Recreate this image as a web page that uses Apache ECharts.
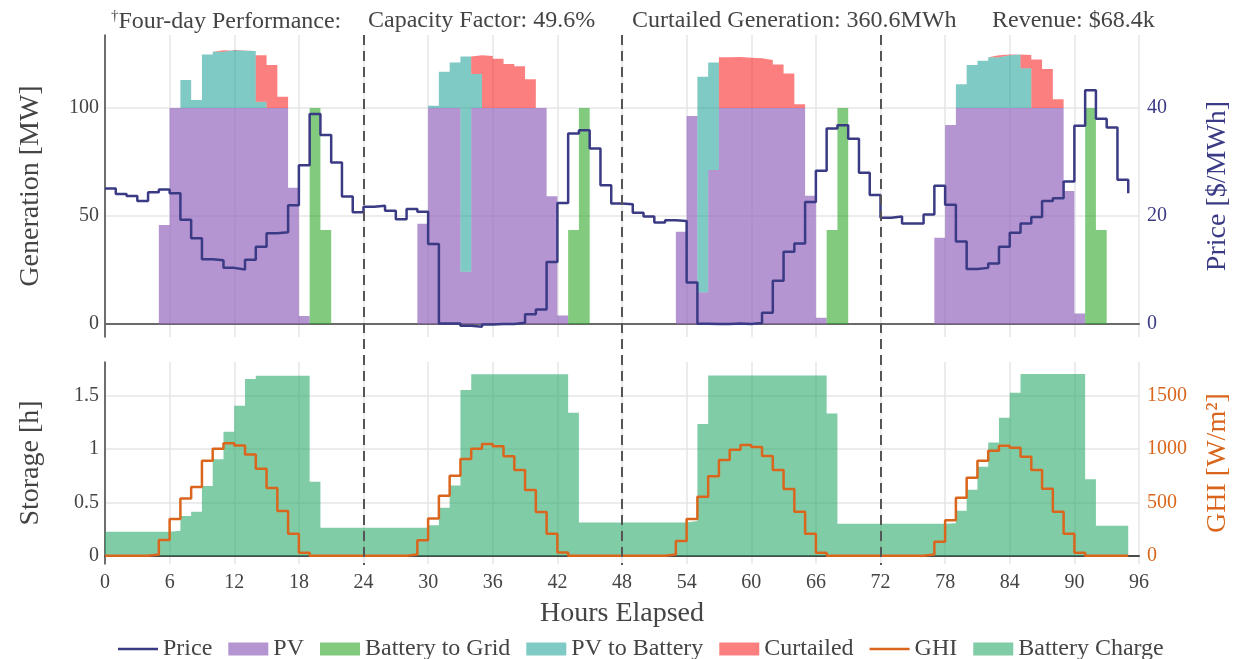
<!DOCTYPE html>
<html>
<head>
<meta charset="utf-8">
<script src="https://cdn.jsdelivr.net/npm/echarts@6/dist/echarts.min.js"></script>
<style>
  html, body { margin: 0; padding: 0; background: #fff; }
  #chart { width: 1244px; height: 659px; }
</style>
</head>
<body>
<div id="chart"></div>
<script>
// Hourly dispatch over four days (hour index 0..95)
const hourTicks = [0, 6, 12, 18, 24, 30, 36, 42, 48, 54, 60, 66, 72, 78, 84, 90, 96];
const dayDividers = [24, 48, 72];

// Electricity price [$/MWh], value held over each hour
const price = [
  25.1, 24.1, 23.7, 22.8, 24.4, 24.9, 24.2, 19.3, 15.9, 12.0, 11.8, 10.4,
  10.1, 11.9, 14.3, 16.8, 17.0, 22.0, 29.4, 38.9, 35.0, 29.9, 23.6, 20.7,
  21.7, 21.9, 21.0, 19.4, 21.3, 20.8, 14.8, 0.1, 0.1, -0.3, -0.5, -0.1,
  0.0, 0.0, 0.25, 1.8, 2.7, 11.5, 22.4, 35.3, 35.9, 32.5, 25.7, 22.3,
  22.2, 20.6, 19.9, 18.8, 19.2, 19.1, 7.7, 0.05, 0.0, 0.0, 0.1, 0.0,
  0.2, 2.1, 8.0, 13.4, 14.9, 22.6, 28.4, 36.2, 36.8, 34.3, 28.0, 23.9,
  19.7, 19.9, 18.6, 18.6, 20.3, 25.6, 22.1, 15.3, 10.2, 10.4, 11.2, 14.3,
  16.9, 18.6, 19.8, 22.8, 23.3, 26.4, 36.7, 43.3, 38.0, 36.4, 26.7, 24.2
];

// PV delivered to grid [MW]
const pvGrid = [
  0, 0, 0, 0, 0, 45.8, 100, 100, 100, 100, 100, 100,
  100, 100, 100, 100, 100, 63.1, 3.7, 0, 0, 0, 0, 0,
  0, 0, 0, 0, 0, 46.4, 100, 100, 100, 24.2, 100, 100,
  100, 100, 100, 100, 100, 59.1, 3.9, 0, 0, 0, 0, 0,
  0, 0, 0, 0, 0, 42.7, 96.3, 14.7, 71.3, 100, 100, 100,
  100, 100, 100, 100, 100, 59.4, 2.9, 0, 0, 0, 0, 0,
  0, 0, 0, 0, 0, 40.0, 92.1, 100, 100, 100, 100, 100,
  100, 100, 100, 100, 100, 61.6, 4.9, 0, 0, 0, 0, 0
];

// Battery discharge to grid [MW]
const batteryToGrid = [
  0, 0, 0, 0, 0, 0, 0, 0, 0, 0, 0, 0,
  0, 0, 0, 0, 0, 0, 0, 100, 43.5, 0, 0, 0,
  0, 0, 0, 0, 0, 0, 0, 0, 0, 0, 0, 0,
  0, 0, 0, 0, 0, 0, 0, 43.5, 100, 0, 0, 0,
  0, 0, 0, 0, 0, 0, 0, 0, 0, 0, 0, 0,
  0, 0, 0, 0, 0, 0, 0, 43.5, 100, 0, 0, 0,
  0, 0, 0, 0, 0, 0, 0, 0, 0, 0, 0, 0,
  0, 0, 0, 0, 0, 0, 0, 100, 43.5, 0, 0, 0
];

// PV used to charge the battery [MW]
const pvToBattery = [
  0, 0, 0, 0, 0, 0, 0, 13.0, 3.7, 24.8, 26.1, 26.7,
  26.5, 26.4, 2.9, 0, 0, 0, 0, 0, 0, 0, 0, 0,
  0, 0, 0, 0, 0, 0, 1.1, 16.8, 21.1, 99.6, 15.7, 0,
  0, 0, 0, 0, 0, 0, 0, 0, 0, 0, 0, 0,
  0, 0, 0, 0, 0, 0, 0, 99.8, 49.8, 0, 0, 0,
  0, 0, 0, 0, 0, 0, 0, 0, 0, 0, 0, 0,
  0, 0, 0, 0, 0, 0, 0, 11.0, 19.9, 21.9, 23.5, 24.4,
  24.8, 18.4, 0, 0, 0, 0, 0, 0, 0, 0, 0, 0
];

// Curtailed PV [MW]
const curtailed = [
  0, 0, 0, 0, 0, 0, 0, 0, 0, 0, 0, 0,
  0, 0, 21.5, 19.9, 5.2, 0, 0, 0, 0, 0, 0, 0,
  0, 0, 0, 0, 0, 0, 0, 0, 0, 0, 8.7, 24.1,
  22.8, 20.4, 19.3, 13.3, 0, 0, 0, 0, 0, 0, 0, 0,
  0, 0, 0, 0, 0, 0, 0, 0, 0, 23.5, 23.6, 23.3,
  23.0, 22.2, 20.2, 16.0, 1.7, 0, 0, 0, 0, 0, 0, 0,
  0, 0, 0, 0, 0, 0, 0, 0, 0, 0, 0, 0,
  0, 6.1, 22.5, 18.1, 4.0, 0, 0, 0, 0, 0, 0, 0
];

// Global horizontal irradiance [W/m²]
const ghi = [
  0, 0, 0, 0, 12, 147, 344, 538, 645, 892, 1005, 1055,
  1036, 951, 817, 635, 419, 207, 28, 0, 0, 0, 0, 0,
  0, 0, 0, 0, 12, 144, 350, 563, 751, 908, 1005, 1049,
  1027, 933, 804, 617, 410, 207, 31, 0, 0, 0, 0, 0,
  0, 0, 0, 0, 12, 138, 344, 554, 745, 898, 995, 1039,
  1020, 936, 804, 626, 413, 207, 28, 0, 0, 0, 0, 0,
  0, 0, 0, 0, 12, 131, 332, 545, 732, 892, 986, 1033,
  1014, 930, 804, 629, 413, 207, 28, 0, 0, 0, 0, 0
];

// Battery state of charge [h of rated power], hours 0..94
const batteryCharge = [
  0.225, 0.225, 0.225, 0.225, 0.225, 0.225, 0.235, 0.372, 0.413, 0.654, 0.905, 1.164,
  1.408, 1.659, 1.690, 1.690, 1.690, 1.690, 1.690, 0.695, 0.263, 0.263, 0.263, 0.263,
  0.263, 0.263, 0.263, 0.263, 0.263, 0.263, 0.285, 0.451, 0.660, 1.556, 1.703, 1.703,
  1.703, 1.703, 1.703, 1.703, 1.703, 1.703, 1.703, 1.343, 0.311, 0.311, 0.311, 0.311,
  0.311, 0.311, 0.311, 0.311, 0.311, 0.311, 0.326, 1.237, 1.693, 1.693, 1.693, 1.693,
  1.693, 1.693, 1.693, 1.693, 1.693, 1.693, 1.693, 1.336, 0.299, 0.299, 0.299, 0.299,
  0.299, 0.299, 0.299, 0.299, 0.299, 0.299, 0.304, 0.423, 0.620, 0.836, 1.064, 1.296,
  1.531, 1.706, 1.706, 1.706, 1.706, 1.706, 1.706, 0.717, 0.282, 0.282, 0.282
];

// Summary line printed above the plots
const summary = [
  '{dag|†}Four-day Performance:',
  'Capacity Factor: 49.6%',
  'Curtailed Generation: 360.6MWh',
  'Revenue: $68.4k'
];

const FONT = 'Liberation Serif';
const TXT = '#444';
const NAVY = '#3a3a85';
const ORANGE = '#d9661c';
const GRIDC = '#e6e6e6';

const C_PV = 'rgba(148,103,189,0.7)';
const C_B2G = 'rgba(46,168,40,0.6)';
const C_PV2B = 'rgba(0,150,138,0.5)';
const C_CURT = 'rgba(248,0,0,0.5)';
const C_CHG = 'rgba(44,170,108,0.6)';

// hour boundaries 0..96 for the hidden band axes
const hourEdges = Array.from({ length: 97 }, (_, i) => String(i));
// hourly blocks: value h is held over [h, h+1]; the last block is closed at its right edge
const blockPts = arr => arr.concat([arr[arr.length - 1]]);
// step-line points starting at each hour
const stepPts = arr => arr.map((v, h) => [h, v]);

// horizontal line used as legend swatch for the two line series
const LINE_ICON = 'path://M0,0L40,0M0,5.2L40,5.2L40,7.8L0,7.8ZM0,13L40,13';

const chart = echarts.init(document.getElementById('chart'), null, { renderer: 'canvas' });

const plotTop = 35, plotBottom = 564;
const titleLefts = [111, 368, 632, 992];

function blockSeries(name, values, color, xIdx, yIdx, stack) {
  return {
    name, type: 'line', xAxisIndex: xIdx, yAxisIndex: yIdx, stack,
    step: 'end', symbol: 'none', smooth: false,
    color,
    lineStyle: { width: 0, opacity: 0 },
    areaStyle: { color, opacity: 1 },
    itemStyle: { color },
    data: blockPts(values)
  };
}

const option = {
  animation: false,
  backgroundColor: '#fff',
  textStyle: { fontFamily: FONT, color: TXT },
  title: summary.map((t, i) => ({
    text: t,
    left: titleLefts[i],
    top: 9,
    padding: 0,
    textStyle: {
      fontFamily: FONT, fontSize: 24, fontWeight: 'normal', color: TXT,
      rich: { dag: { fontFamily: FONT, fontSize: 15, color: TXT, padding: [0, 0, 10, 0] } }
    }
  })),
  grid: [
    { left: 105, right: 105, top: plotTop, height: 302, containLabel: false, outerBoundsMode: 'none' },
    { left: 105, right: 105, top: 362, height: plotBottom - 362, containLabel: false, outerBoundsMode: 'none' }
  ],
  legend: {
    left: 113,
    top: 632,
    itemWidth: 40,
    itemHeight: 13,
    itemGap: 16,
    textStyle: { fontFamily: FONT, fontSize: 24, color: TXT },
    data: [
      { name: 'Price', icon: LINE_ICON, itemStyle: { color: NAVY, borderWidth: 0 } },
      { name: 'PV', icon: 'rect', itemStyle: { borderWidth: 0 } },
      { name: 'Battery to Grid', icon: 'rect', itemStyle: { borderWidth: 0 } },
      { name: 'PV to Battery', icon: 'rect', itemStyle: { borderWidth: 0 } },
      { name: 'Curtailed', icon: 'rect', itemStyle: { borderWidth: 0 } },
      { name: 'GHI', icon: LINE_ICON, itemStyle: { color: ORANGE, borderWidth: 0 } },
      { name: 'Battery Charge', icon: 'rect', itemStyle: { borderWidth: 0 } }
    ]
  },
  xAxis: [
    {
      type: 'value', gridIndex: 0, min: 0, max: 96, interval: 6,
      axisLabel: { show: false },
      axisTick: { show: false },
      axisLine: { show: true, onZero: true, lineStyle: { color: '#6a6a6a', width: 2 } },
      splitLine: { show: true, lineStyle: { color: GRIDC, width: 1.5 } }
    },
    {
      type: 'value', gridIndex: 1, min: 0, max: 96, interval: 6,
      axisLabel: {
        fontFamily: FONT, fontSize: 20, color: TXT, margin: 9,
        formatter: v => hourTicks.includes(v) ? String(v) : ''
      },
      axisTick: { show: false },
      axisLine: { show: true, onZero: true, lineStyle: { color: '#4a4a4a', width: 2 } },
      splitLine: { show: true, lineStyle: { color: GRIDC, width: 1.5 } },
      name: 'Hours Elapsed', nameLocation: 'middle', nameGap: 36,
      nameTextStyle: { fontFamily: FONT, fontSize: 28, color: TXT }
    },
    { type: 'category', gridIndex: 0, boundaryGap: false, data: hourEdges, show: false },
    { type: 'category', gridIndex: 1, boundaryGap: false, data: hourEdges, show: false }
  ],
  yAxis: [
    {
      type: 'value', gridIndex: 0, min: -6, max: 133.8, minInterval: 50, maxInterval: 50,
      axisLine: { show: true, onZero: false, lineStyle: { color: TXT, width: 1.5 } },
      axisTick: { show: false },
      axisLabel: { fontFamily: FONT, fontSize: 20, color: TXT, margin: 6, showMinLabel: false, showMaxLabel: false },
      splitLine: { show: true, showMinLine: false, showMaxLine: false, lineStyle: { color: GRIDC, width: 1.5 } },
      name: 'Generation [MW]', nameLocation: 'middle', nameGap: 60,
      nameTextStyle: { fontFamily: FONT, fontSize: 28, color: TXT }
    },
    {
      type: 'value', gridIndex: 0, position: 'right', min: -2.4, max: 53.52, minInterval: 20, maxInterval: 20,
      axisLine: { show: false },
      axisTick: { show: false },
      axisLabel: { fontFamily: FONT, fontSize: 20, color: NAVY, margin: 8, showMinLabel: false, showMaxLabel: false },
      splitLine: { show: false },
      name: 'Price [$/MWh]', nameLocation: 'middle', nameGap: 65,
      nameTextStyle: { fontFamily: FONT, fontSize: 28, color: NAVY }
    },
    {
      type: 'value', gridIndex: 1, min: -0.078, max: 1.819, minInterval: 0.5, maxInterval: 0.5,
      axisLine: { show: true, onZero: false, lineStyle: { color: TXT, width: 1.5 } },
      axisTick: { show: false },
      axisLabel: { fontFamily: FONT, fontSize: 20, color: TXT, margin: 6, showMinLabel: false, showMaxLabel: false },
      splitLine: { show: true, showMinLine: false, showMaxLine: false, lineStyle: { color: GRIDC, width: 1.5 } },
      name: 'Storage [h]', nameLocation: 'middle', nameGap: 60,
      nameTextStyle: { fontFamily: FONT, fontSize: 28, color: TXT }
    },
    {
      type: 'value', gridIndex: 1, position: 'right', min: -78, max: 1819, minInterval: 500, maxInterval: 500,
      axisLine: { show: false },
      axisTick: { show: false },
      axisLabel: {
        fontFamily: FONT, fontSize: 20, color: ORANGE, margin: 8, showMinLabel: false, showMaxLabel: false,
        formatter: v => String(v)
      },
      splitLine: { show: false },
      name: 'GHI [W/m²]', nameLocation: 'middle', nameGap: 65,
      nameTextStyle: { fontFamily: FONT, fontSize: 28, color: ORANGE }
    }
  ],
  series: [
    blockSeries('PV', pvGrid, C_PV, 2, 0, 'gen'),
    blockSeries('Battery to Grid', batteryToGrid, C_B2G, 2, 0, 'gen'),
    blockSeries('PV to Battery', pvToBattery, C_PV2B, 2, 0, 'gen'),
    blockSeries('Curtailed', curtailed, C_CURT, 2, 0, 'gen'),
    {
      name: 'Price', type: 'line', xAxisIndex: 0, yAxisIndex: 1, step: 'end',
      symbol: 'none', z: 5,
      color: NAVY,
      lineStyle: { color: NAVY, width: 2.5 },
      itemStyle: { color: NAVY },
      data: stepPts(price)
    },
    blockSeries('Battery Charge', batteryCharge, C_CHG, 3, 2, null),
    {
      name: 'GHI', type: 'line', xAxisIndex: 1, yAxisIndex: 3, step: 'end',
      symbol: 'none', z: 5,
      color: ORANGE,
      lineStyle: { color: ORANGE, width: 2.5 },
      itemStyle: { color: ORANGE },
      data: stepPts(ghi)
    }
  ]
};

chart.setOption(option);

// dashed day separators spanning both panels
const sepLines = dayDividers.map(d => {
  const px = Math.round(chart.convertToPixel({ xAxisIndex: 0 }, d));
  return {
    type: 'line', z: 100, silent: true,
    shape: { x1: px, y1: plotTop, x2: px, y2: plotBottom + 1 },
    style: { stroke: '#555', lineWidth: 2, lineDash: [10, 6] }
  };
});
chart.setOption({ graphic: sepLines });
</script>
</body>
</html>
